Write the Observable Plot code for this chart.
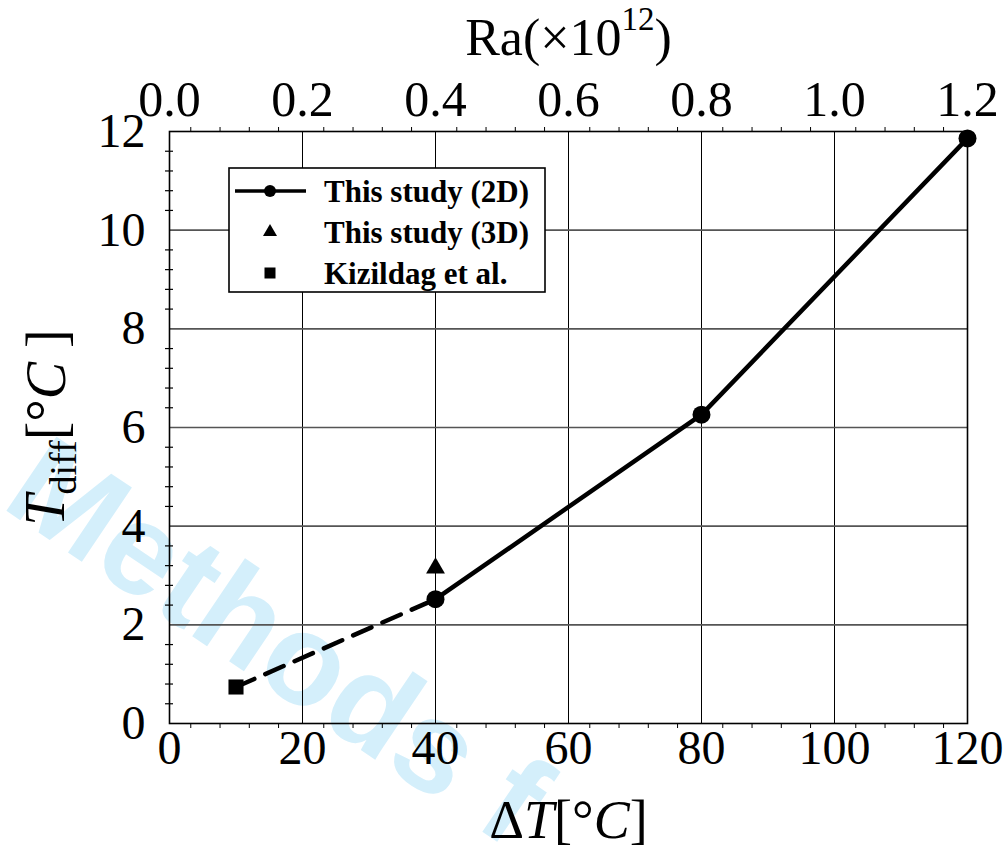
<!DOCTYPE html>
<html>
<head>
<meta charset="utf-8">
<script src="https://cdn.jsdelivr.net/npm/d3@7"></script>
<script src="https://cdn.jsdelivr.net/npm/@observablehq/plot@0.6"></script>
<style>
  html, body { margin: 0; padding: 0; background: #fff; }
  #chart { position: relative; width: 1006px; height: 849px; }
</style>
</head>
<body>
<div id="chart"></div>
<script>
// ---- data ----
const dT2D = [40, 80, 120];
const tdiff2D = [2.52, 6.26, 11.86];
const dT3D = [40];
const tdiff3D = [3.15];
const dTKiz = [10];
const tdiffKiz = [0.74];

// ---- ticks ----
const xTicks = [0, 20, 40, 60, 80, 100, 120];
const raLabels = ["0.0", "0.2", "0.4", "0.6", "0.8", "1.0", "1.2"];
const yTicks = [0, 2, 4, 6, 8, 10, 12];
const xMinor = [3.2, 7.6, 12, 16.4, 23.2, 27.6, 32, 36.4, 43.2, 47.6, 52, 56.4,
  63.2, 67.6, 72, 76.4, 83.2, 87.6, 92, 96.4, 103.2, 107.6, 112, 116.4];
const yMinor = [0.4, 0.8, 1.2, 1.6, 2.4, 2.8, 3.2, 3.6, 4.4, 4.8, 5.2, 5.6,
  6.4, 6.8, 7.2, 7.6, 8.4, 8.8, 9.2, 9.6, 10.4, 10.8, 11.2, 11.6];

const legendItems = ["This study (2D)", "This study (3D)", "Kizildag et al."];
const watermark = "Methods f";

const pts2D = dT2D.map((x, i) => ({x, y: tdiff2D[i]}));
const pts3D = dT3D.map((x, i) => ({x, y: tdiff3D[i]}));
const ptsKiz = dTKiz.map((x, i) => ({x, y: tdiffKiz[i]}));
const dashed = [ptsKiz[0], pts2D[0]];

const serif = "'Liberation Serif', 'DejaVu Serif', serif";

const svg = Plot.plot({
  width: 1006, height: 849,
  marginLeft: 169, marginRight: 39, marginTop: 131, marginBottom: 126,
  x: {domain: [0, 120]},
  y: {domain: [0, 12]},
  style: {fontFamily: serif, background: "transparent", color: "#000"},
  marks: [
    Plot.text([watermark], {frameAnchor: "top-left", dx: -147, dy: 340, rotate: 34,
      textAnchor: "start", lineAnchor: "middle", fontSize: 130, fontWeight: "bold",
      fontFamily: "'Liberation Sans', Arial, sans-serif", fill: "#d4effb"}),
    Plot.gridX(xTicks.slice(1, -1), {stroke: "#000", strokeOpacity: 1, strokeWidth: 1}),
    Plot.gridY(yTicks.slice(1, -1), {stroke: "#555", strokeOpacity: 1, strokeWidth: 1.6}),
    Plot.axisX({anchor: "bottom", ticks: xMinor, tickSize: 5, tickFormat: () => "", label: null, strokeWidth: 1}),
    Plot.axisX({anchor: "bottom", ticks: xTicks, tickSize: 0, tickPadding: 6, fontSize: 48, label: null}),
    Plot.axisX({anchor: "top", ticks: xMinor, tickSize: 5, tickFormat: () => "", label: null, strokeWidth: 1}),
    Plot.axisX({anchor: "top", ticks: xTicks, tickSize: 0, tickPadding: 16, fontSize: 50, label: null,
      tickFormat: d => raLabels[xTicks.indexOf(d)]}),
    Plot.axisY({anchor: "left", ticks: yMinor, tickSize: 8, dx: 4, tickFormat: () => "", label: null, strokeWidth: 1.2}),
    Plot.axisY({anchor: "left", ticks: yTicks, tickSize: 0, tickPadding: 24, fontSize: 48, label: null}),
    Plot.frame({stroke: "#000", strokeWidth: 1.6}),
    Plot.line(dashed, {x: "x", y: "y", stroke: "#000", strokeWidth: 4.5, strokeDasharray: "20,12"}),
    Plot.line(pts2D, {x: "x", y: "y", stroke: "#000", strokeWidth: 4.5}),
    Plot.dot(pts2D, {x: "x", y: "y", r: 9, fill: "#000", symbol: "circle"}),
    Plot.dot(pts3D, {x: "x", y: "y", r: 7, fill: "#000", symbol: "triangle"}),
    Plot.dot(ptsKiz, {x: "x", y: "y", r: 8.5, fill: "#000", symbol: "square"}),
    Plot.text(["Ra(×10^12)"], {frameAnchor: "top", dy: -93, lineAnchor: "middle", textAnchor: "middle", fontSize: 52, fill: "#000"}),
    Plot.text(["ΔT[°C]"], {frameAnchor: "bottom", dy: 97, lineAnchor: "middle", textAnchor: "middle", fontSize: 54, fill: "#000"}),
    Plot.text(["Tdiff[°C]"], {frameAnchor: "left", dx: -123, rotate: -90, lineAnchor: "middle", textAnchor: "middle", fontSize: 56, fill: "#000"})
  ]
});

// Rich text for the axis titles
d3.select(svg).selectAll("text").each(function() {
  const t = this.textContent;
  const sel = d3.select(this);
  if (t === "ΔT[°C]") {
    sel.text(null);
    sel.append("tspan").text("Δ");
    sel.append("tspan").attr("font-style", "italic").text("T");
    sel.append("tspan").text("[°");
    sel.append("tspan").attr("font-style", "italic").text("C");
    sel.append("tspan").text("]");
  } else if (t === "Tdiff[°C]") {
    sel.text(null);
    sel.append("tspan").attr("font-style", "italic").text("T");
    sel.append("tspan").attr("font-size", 38).attr("dy", "0.3em").text("diff");
    sel.append("tspan").attr("dy", "-0.2em").text("[°");
    sel.append("tspan").attr("font-style", "italic").text("C");
    sel.append("tspan").text(" ]");
  } else if (t === "Ra(×10^12)") {
    sel.text(null);
    sel.append("tspan").text("Ra(×10");
    sel.append("tspan").attr("font-size", 33).attr("dy", "-0.75em").text("12");
    sel.append("tspan").attr("dy", "0.48em").text(")");
  }
});

// Legend box
const lg = d3.select(svg).append("g").attr("font-family", serif).attr("text-anchor", "start");
lg.append("rect").attr("x", 229).attr("y", 168).attr("width", 316).attr("height", 124)
  .attr("fill", "#fff").attr("stroke", "#000").attr("stroke-width", 1.6);
const rowY = [191, 232, 273];
lg.append("line").attr("x1", 235).attr("x2", 306).attr("y1", rowY[0]).attr("y2", rowY[0])
  .attr("stroke", "#000").attr("stroke-width", 3.5);
lg.append("circle").attr("cx", 270).attr("cy", rowY[0]).attr("r", 6).attr("fill", "#000");
lg.append("path").attr("transform", `translate(270,${rowY[1]})`)
  .attr("d", d3.symbol(d3.symbolTriangle, 85)()).attr("fill", "#000");
lg.append("rect").attr("x", 264.5).attr("y", rowY[2] - 5.5).attr("width", 11).attr("height", 11).attr("fill", "#000");
legendItems.forEach((s, i) => {
  lg.append("text").attr("x", 324).attr("y", rowY[i]).attr("dy", "0.35em").attr("text-anchor", "start")
    .attr("font-size", 31).attr("font-weight", "bold").attr("fill", "#000").text(s);
});

document.getElementById("chart").appendChild(svg);
</script>
</body>
</html>
